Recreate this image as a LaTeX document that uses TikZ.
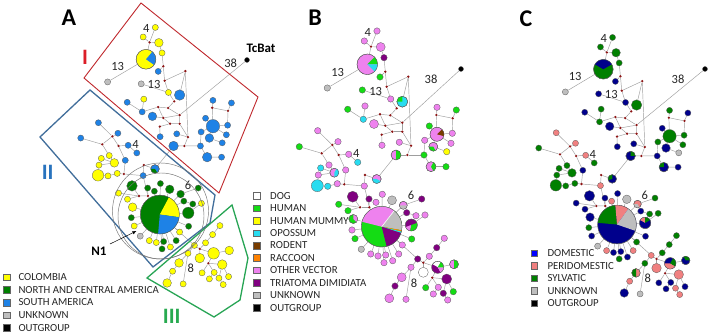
\documentclass[tikz,border=0pt]{standalone}
\usepackage{fontspec}
\setmainfont{Carlito}
\usetikzlibrary{backgrounds,arrows.meta}
\definecolor{yl}{RGB}{255,255,0}
\definecolor{gn}{RGB}{0,128,0}
\definecolor{bl}{RGB}{30,130,230}
\definecolor{gy}{RGB}{190,190,190}
\definecolor{pk}{RGB}{238,130,238}
\definecolor{hg}{RGB}{20,220,20}
\definecolor{cy}{RGB}{40,220,240}
\definecolor{pu}{RGB}{128,0,128}
\definecolor{br}{RGB}{120,60,0}
\definecolor{og}{RGB}{255,130,0}
\definecolor{nv}{RGB}{0,0,140}
\definecolor{sa}{RGB}{240,128,128}
\definecolor{wh}{RGB}{255,255,255}
\definecolor{jr}{RGB}{140,20,20}
\definecolor{dblue}{RGB}{0,0,255}
\definecolor{boxred}{RGB}{192,40,45}
\definecolor{boxblue}{RGB}{65,110,155}
\definecolor{boxgreen}{RGB}{40,165,85}
\definecolor{numred}{RGB}{220,30,40}
\definecolor{numblue}{RGB}{40,115,190}
\definecolor{numgreen}{RGB}{40,170,80}
\tikzset{
  hap/.style={circle, inner sep=0pt, draw=black!65, line width=0.3pt},
  jn/.style={circle, inner sep=0pt, minimum size=2.6pt, fill=jr},
  edge/.style={draw=black!38, line width=0.45pt},
  outl/.style={draw=black!65, line width=0.3pt},
  num/.style={font=\fontsize{12.5}{12.5}\selectfont, inner sep=0pt, text=black!85},
  lsq/.style={rectangle, minimum size=6.5pt, inner sep=0pt, draw=black!60, line width=0.4pt},
  ltx/.style={anchor=west, inner sep=0pt, font=\fontsize{10.8}{11}\selectfont, text=black!85},
  ttl/.style={font=\fontsize{24}{24}\selectfont\bfseries, inner sep=0pt},
  roman/.style={font=\fontsize{22}{22}\selectfont\bfseries, inner sep=0pt},
}
\newcommand\hapwedge[5]{\fill[#5] (#1.center) -- ++(#3:#2 pt) arc[start angle=#3, end angle=#4, radius=#2 pt] -- cycle;}
\newcommand\hapring[2]{\draw[outl] (#1.center) circle[radius=#2 pt];}
\newcommand\drawnet{%
 \foreach \nm/\x/\y/\r/\ca/\cb/\cc in {
  n1/377/31/3.2/yl/pk/gn, n2/364.3/41/3.2/yl/pk/gn, n3/380.7/47/4.5/yl/pk/gn,
  P1/367.3/64.3/10.3/yl/pk/gn, n4/384/57.7/3.2/yl/pu/gn, n5/380/77/3.2/bl/hg/nv,
  n6/327.3/88/3.2/gy/gy/gy, n7/362.3/90/3.2/gy/hg/nv, n8/390.7/99/3.2/yl/pk/nv,
  n9/402.3/101.7/5.5/bl/cy/gn, n10/347.7/109.3/3.2/bl/hg/nv, n11/365/106/3.2/yl/pk/gn,
  n12/363.3/119.3/3.2/bl/cy/gn, n13/374/124/4.5/bl/pk/nv, n14/382/145.3/3.2/bl/pk/nv,
  n15/399.3/142.3/3.2/bl/pk/nv, n16/396/155/5/bl/pk/nv, n17/437/107.3/3.2/bl/pk/gn,
  n18/456.3/110/3.2/bl/hg/nv, n19/429.3/126/3.2/bl/hg/nv, n20/437/134.3/7/bl/pk/gn,
  n21/452.3/133.3/3.2/bl/pk/gn, n22/451/143.3/3.2/bl/pk/gn, n23/424.7/140.3/3.2/bl/pk/gn,
  n24/433.3/146.7/4.5/bl/pk/nv, n25/446.7/151.7/3.2/bl/yl/gy, n26/424/155/3.2/bl/hg/nv,
  n27/431/166.7/5/bl/pk/nv, n28/446/166.7/3.2/bl/hg/nv,
  n29/317.7/130.7/3.2/bl/pk/sa, n30/299.3/146.7/3.2/bl/hg/gn, n31/338/141.7/3.2/bl/pk/sa,
  n32/348.7/154.3/3.2/bl/pk/sa, n33/357.7/162.3/3.2/bl/cy/gn, n34/345.7/170/3.2/bl/pk/nv,
  n35/329/165/3.2/yl/pk/gn, n36/334.3/172.7/4.5/yl/pk/gn, n37/320.7/168/3.2/yl/cy/gn,
  n38/318.3/175/3.2/yl/pk/gn, n39/317.3/185.7/6/yl/cy/gn, n40/327.7/186.3/3.2/yl/cy/gn,
  n41/337.3/183.7/3.2/yl/pk/gn, n42/376.7/179/4.5/bl/pk/nv, n43/364.3/186/3.2/bl/pk/sa,
  P2/381.7/226.7/20.3/gn/hg/nv, n44/352.7/196.7/5.5/gn/pu/nv, n45/369/199/3.2/gn/pu/nv,
  n46/376/202.3/3.2/gn/pk/sa, n47/382.3/194.3/3.2/gn/pk/nv, n48/392/200.3/4.5/gn/gy/gy,
  n49/403.3/205.3/4/gn/pk/sa, n50/421.7/199/3.2/gn/pu/gn, n51/406.7/212.7/3.2/gn/pu/nv,
  n52/416/215.7/3.2/gn/pk/gn, n53/425/215/3.2/yl/pk/gn, n54/411.3/225/6/gn/pu/nv,
  n55/411.7/239/3.2/gn/hg/nv, n56/402.3/245/3.2/yl/pk/gn, n57/338.7/204.3/3.2/yl/hg/nv,
  n58/348/210.7/3.2/yl/hg/nv, n59/353.3/219/4.5/yl/hg/nv, n60/352/230/3.2/gn/pk/gn,
  n61/355/238.7/3.2/yl/hg/nv, n62/361.3/249.3/3.2/gy/gy/gy, n63/370.7/254/3.2/yl/pk/sa,
  n64/378/256/3.2/yl/pk/nv, n65/385.7/255/3.2/gn/pk/nv, n66/392.7/260.7/3.2/yl/pk/nv,
  n67/384/262.7/3.2/gn/pk/gn, n68/398.7/254/3.2/gn/pk/sa,
  n69/417.7/259/3.2/yl/pu/sa, n70/429.3/256.3/3.2/yl/pk/gn, n71/436.7/247.7/3.2/yl/pu/gn,
  n72/444.3/238.3/3.2/yl/pk/gn, n73/411/267.3/3.2/yl/pk/gn, n74/401.7/277.3/4.5/yl/pk/sa,
  n75/395/286/3.2/yl/pu/sa, n76/389.3/298.3/4.5/yl/pk/nv, n77/406/299.3/3.2/yl/pk/gy,
  n78/437.7/267.3/6/yl/wh/nv, n79/423.3/272.3/5/yl/wh/sa, n80/454/264.3/4.5/yl/pk/nv,
  n81/446.7/279/5/yl/pu/sa, n82/425.7/287.7/3.2/yl/hg/nv, n83/438.3/287.3/3.2/yl/pk/nv,
  n84/433.3/294/3.2/yl/pk/nv, n85/443.3/293.3/3.2/yl/pu/sa, n86/453.3/291.7/3.2/yl/hg/nv,
  n87/447.7/300/3.2/yl/pk/sa}{%
   \ifcase\panel\relax \xdef\hc{\ca}\or \xdef\hc{\cb}\or \xdef\hc{\cc}\fi
   \pgfmathsetmacro\dd{2*\r*\sf}%
   \node[hap, minimum size=\dd pt, fill=\hc] (\pp\nm) at (\x,\y) {};
 }
 \foreach \nm/\x/\y in {j1/371/46.7, j2/385.3/71.7, j3/386.7/86.7, j4/408.3/76.7,
   j5/380/114.3, j6/390.3/115.3, j7/396.7/108.3, j8/385.3/125.7, j9/402.3/122.7,
   j10/392.3/131.7, j11/402.3/131.7, j12/381.7/134.7, j13/411/145.7, j14/407.3/155,
   j15/436.3/115, j16/452.7/118.3, j17/321.7/153.3, j18/332.3/145, j19/338.7/155,
   j20/344.3/184.3, j22/365/175, j23/360/207.3, j24/369.3/207.3, j26/423.3/262.7,
   j28/432.3/277.7}{\node[jn] (\pp\nm) at (\x,\y) {};}
 \ifcase\panel\relax
   \hapwedge{\pp P1}{10.3}{-35}{50}{bl}\hapring{\pp P1}{10.3}
   \hapwedge{\pp n42}{4.5}{180}{300}{gn}\hapring{\pp n42}{4.5}
   \hapwedge{\pp P2}{20.3}{-8}{62}{yl}\hapwedge{\pp P2}{20.3}{-95}{-8}{bl}\hapring{\pp P2}{20.3}
 \or
   \hapwedge{\pp P1}{10.3}{0}{45}{hg}\hapwedge{\pp P1}{10.3}{-45}{0}{cy}\hapring{\pp P1}{10.3}
   \hapwedge{\pp n9}{5.5}{90}{180}{hg}\hapring{\pp n9}{5.5}
   \hapwedge{\pp n16}{5}{-90}{90}{hg}\hapring{\pp n16}{5}
   \hapwedge{\pp n20}{7}{-15}{45}{br}\hapring{\pp n20}{7}
   \hapwedge{\pp n24}{4.5}{180}{300}{hg}\hapring{\pp n24}{4.5}
   \hapwedge{\pp n27}{5}{-60}{60}{hg}\hapring{\pp n27}{5}
   \hapwedge{\pp n36}{4.5}{-90}{60}{cy}\hapring{\pp n36}{4.5}
   \hapwedge{\pp n42}{4.5}{180}{330}{cy}\hapring{\pp n42}{4.5}
   \hapwedge{\pp n49}{4}{180}{360}{gy}\hapring{\pp n49}{4}
   \hapwedge{\pp n54}{6}{200}{260}{pk}\hapwedge{\pp n54}{6}{260}{380}{hg}\hapring{\pp n54}{6}
   \hapwedge{\pp n59}{4.5}{-45}{90}{pk}\hapring{\pp n59}{4.5}
   \hapwedge{\pp n78}{6}{150}{300}{pu}\hapwedge{\pp n78}{6}{300}{360}{pk}\hapwedge{\pp n78}{6}{0}{60}{hg}\hapring{\pp n78}{6}
   \hapwedge{\pp n80}{4.5}{-90}{90}{hg}\hapring{\pp n80}{4.5}
   \hapwedge{\pp P2}{20.3}{52}{166}{pk}\hapwedge{\pp P2}{20.3}{-10}{52}{gy}\hapwedge{\pp P2}{20.3}{-14}{-10}{og}\hapwedge{\pp P2}{20.3}{-18}{-14}{cy}\hapwedge{\pp P2}{20.3}{-76}{-18}{pu}
   \draw[white, line width=0.6pt] (\pp P2.center) -- ++(52:20.3pt);
   \hapring{\pp P2}{20.3}
 \or
   \hapwedge{\pp P1}{10.3}{30}{150}{nv}\hapring{\pp P1}{10.3}
   \hapwedge{\pp n16}{5}{0}{90}{gn}\hapring{\pp n16}{5}
   \hapwedge{\pp n27}{5}{90}{180}{gn}\hapring{\pp n27}{5}
   \hapwedge{\pp n42}{4.5}{90}{200}{gn}\hapring{\pp n42}{4.5}
   \hapwedge{\pp n49}{4}{180}{300}{gy}\hapring{\pp n49}{4}
   \hapwedge{\pp n54}{6}{90}{150}{sa}\hapwedge{\pp n54}{6}{30}{90}{gn}\hapring{\pp n54}{6}
   \hapwedge{\pp n74}{4.5}{90}{270}{gn}\hapring{\pp n74}{4.5}
   \hapwedge{\pp n78}{6}{180}{330}{sa}\hapwedge{\pp n78}{6}{330}{420}{gn}\hapring{\pp n78}{6}
   \hapwedge{\pp n80}{4.5}{0}{120}{gn}\hapring{\pp n80}{4.5}
   \hapwedge{\pp P2}{20.3}{95}{175}{gn}\hapwedge{\pp P2}{20.3}{54}{95}{sa}\hapwedge{\pp P2}{20.3}{-19}{54}{gy}\hapring{\pp P2}{20.3}
 \fi
 \begin{pgfonlayer}{background}
 \foreach \a/\b in {n1/j1, n2/j1, n3/j1, j1/P1, n3/n4, n4/j2, j2/n5, j2/j3, j3/j4, j4/n9,
   j4/j13, j3/n8, n7/n8, n6/P1, n8/j7, n10/n12, n11/n12, n12/j5, j5/j6, j6/j7, j5/j8,
   j6/j9, j8/j9, n13/j8, j8/j10, j9/j11, j10/j11, j10/j12, j12/n14, j11/j13, j13/n15,
   j13/j14, j14/n16, j14/n26, n26/n23, n23/n20, n19/n20, n17/j15, j15/n20, j15/j16,
   j16/n18, j16/n21, n20/n21, n20/n22, n20/n24, n24/n25, n26/n27, n27/n28,
   n30/j17, j17/j18, n29/j18, j18/n31, j18/j19, j19/n32, n32/n33, j19/n34, j17/n35,
   n35/n36, n36/n37, n36/n38, n38/n39, n39/n40, n40/n41, n41/j20, j20/n34, j20/n43,
   n43/j22, j22/n42, n42/n16, n43/j24,
   j23/n44, j23/n57, j23/n58, j23/j24, j24/n45, j24/P2, P2/n46, P2/n47, P2/n48, P2/n49,
   n49/n50, P2/n51, n51/n52, P2/n54, n54/n53, P2/n55, P2/n56, P2/n59, P2/n60, P2/n61,
   P2/n62, P2/n63, P2/n64, P2/n65, P2/n66, P2/n67, P2/n68,
   P2/n69, n69/j26, n69/n73, j26/n70, n70/n71, n71/n72, j26/n78, j26/n79, n78/j28,
   j28/n81, j28/n82, j28/n83, n83/n84, n81/n85, n81/n86, n85/n87, n78/n80,
   n73/n74, n74/n75, n75/n76, n73/n77}{\draw[edge] (\pp\a) -- (\pp\b);}
 \end{pgfonlayer}
 \node[num] (\pp La) at (367.7,32.3) {4};
 \node[num] (\pp Lb) at (337.7,72) {13};
 \node[num] (\pp Lc) at (375.7,91) {13};
 \node[num] (\pp Ld) at (356.3,153.3) {4};
 \node[num] (\pp Le) at (411,195.7) {6};
 \node[num] (\pp Lf) at (414,283.3) {8};
}
\begin{document}
\begin{tikzpicture}[x=1pt, y=-1pt]
\begin{pgfonlayer}{background}
\fill[white] (0,0) rectangle (710,336);
\end{pgfonlayer}
\useasboundingbox (0,0) rectangle (710,336);
% ---------- panel A ----------
\begin{scope}[shift={(-206.6,-2.2)}, xscale=0.96, yscale=0.956]
 \def\pp{A}\def\panel{0}\def\sf{0.958}
 \drawnet
\end{scope}
% ---------- panel B ----------
\begin{scope}
 \def\pp{B}\def\panel{1}\def\sf{1}
 \drawnet
\end{scope}
% ---------- panel C ----------
\begin{scope}[shift={(254.4,7.8)}, xscale=0.95, yscale=0.956]
 \def\pp{C}\def\panel{2}\def\sf{0.953}
 \drawnet
\end{scope}
% outgroups
\node[hap, fill=black, minimum size=5pt] (AOG) at (247,60) {};
\node[hap, fill=black, minimum size=5pt] (BOG) at (461,69) {};
\node[hap, fill=black, minimum size=5pt] (COG) at (705,69) {};
\begin{pgfonlayer}{background}
\draw[edge] (Aj9) -- (AOG);
\draw[edge] (Bj9) -- (BOG);
\draw[edge] (Cj9) -- (COG);
\end{pgfonlayer}
\node[num] (A38) at (230.7,63) {38};
\node[num] (B38) at (431,79) {38};
\node[num] (C38) at (678,79) {38};
\node[font=\fontsize{13}{13}\selectfont\bfseries, inner sep=0pt] (TcBat) at (261,48.5) {TcBat};
% group boxes in A
\draw[boxred, line width=0.9pt] (141,3) -- (258,97) -- (219,193) -- (84,78) -- cycle;
\draw[boxblue, line width=1.3pt] (90,90) -- (215,195) -- (210,223) -- (153,267) -- (40,137) -- cycle;
\draw[boxgreen, line width=1.3pt] (232,205) -- (248,258) -- (240,300) -- (214,317) -- (147,278) -- cycle;
\draw[black!55, line width=0.45pt] (160.5,211) circle[radius=48pt];
\draw[black!55, line width=0.45pt] (161,216) circle[radius=43pt];
\node[roman, text=numred] (RI) at (85,57.5) {I};
\node[roman, text=numblue] (RII) at (47.7,172.7) {II};
\node[roman, text=numgreen] (RIII) at (171.7,316) {III};
% N1
\node[font=\fontsize{13}{13}\selectfont\bfseries, inner sep=0pt] (N1) at (99,251) {N1};
\coordinate (N1tip) at (136.5,231);
\draw[black, line width=0.5pt, -{Latex[length=4pt,width=3.5pt]}] (110,244) -- (N1tip);
% titles
\node[ttl] (TA) at (69,18) {A};
\node[ttl] (TB) at (315,17.5) {B};
\node[ttl] (TC) at (526,18.3) {C};
% legends
\foreach \i/\c/\t in {0/yl/COLOMBIA, 1/gn/NORTH AND CENTRAL AMERICA, 2/bl/SOUTH AMERICA, 3/gy/UNKNOWN, 4/black/OUTGROUP}{
  \node[lsq, fill=\c] (LA\i) at (6.7,{277.3+12.6*\i}) {};
  \node[ltx] (TA\i) at (18.3,{277.3+12.6*\i}) {\t};
}
\foreach \i/\c/\t in {0/wh/DOG, 1/hg/HUMAN, 2/yl/HUMAN MUMMY, 3/cy/OPOSSUM, 4/br/RODENT, 5/og/RACCOON, 6/pk/OTHER VECTOR, 7/pu/TRIATOMA DIMIDIATA, 8/gy/UNKNOWN, 9/black/OUTGROUP}{
  \node[lsq, fill=\c] (LB\i) at (256.7,{195.7+12.45*\i}) {};
  \node[ltx] (TB\i) at (270,{195.7+12.45*\i}) {\t};
}
\foreach \i/\c/\t in {0/dblue/DOMESTIC, 1/sa/PERIDOMESTIC, 2/gn/SYLVATIC, 3/gy/UNKNOWN, 4/black/OUTGROUP}{
  \node[lsq, fill=\c] (LC\i) at (534.2,{253.3+12.5*\i}) {};
  \node[ltx] (TC\i) at (547.3,{253.3+12.5*\i}) {\t};
}
\end{tikzpicture}
\end{document}
